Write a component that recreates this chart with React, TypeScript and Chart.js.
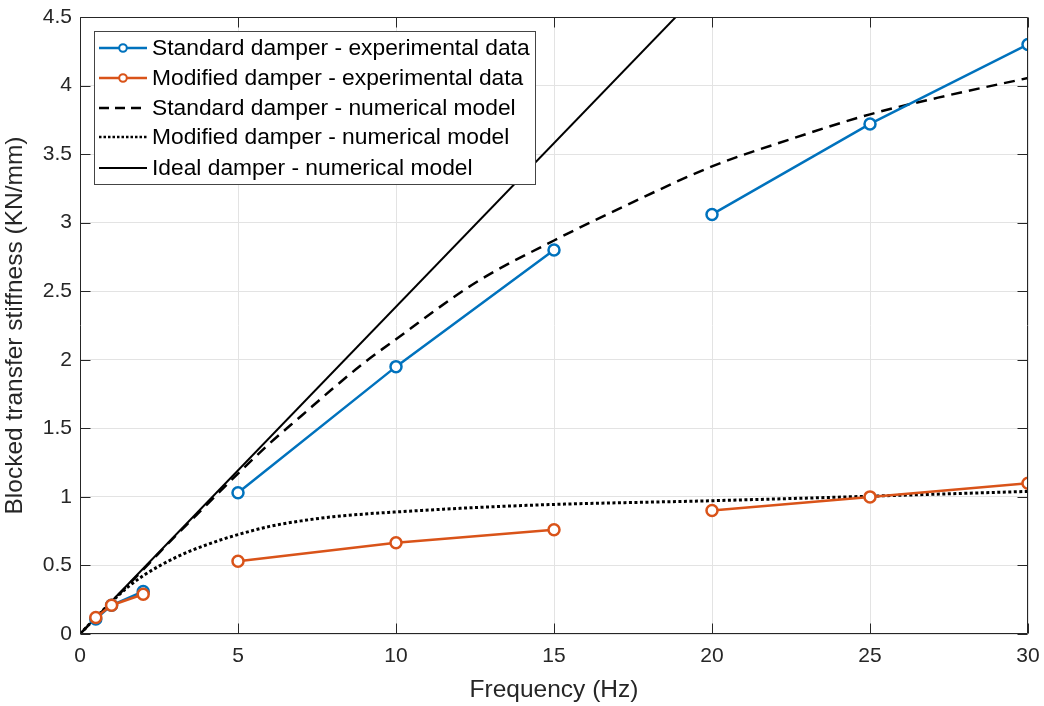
import React, { useEffect, useRef } from "react";
import { Chart, registerables } from "chart.js";

Chart.register(...registerables);

// ---- data ----
const expFreq = [0.5, 1, 2, 5, 10, 15, 20, 25, 30];
const standardExp = [0.11, 0.21, 0.31, 1.03, 1.95, 2.8, 3.06, 3.72, 4.3];
const modifiedExp = [0.12, 0.21, 0.29, 0.53, 0.665, 0.76, 0.9, 1.0, 1.1];
const expBreaksAfter = [2, 5];

const standardModelFreq = [0, 1, 2, 3, 4, 5, 6, 7, 8, 9, 10, 12.5, 15, 17.5, 20, 22.5, 25, 27.5, 30];
const standardModel = [0, 0.235, 0.47, 0.71, 0.94, 1.17, 1.39, 1.59, 1.79, 1.98, 2.15, 2.56, 2.87, 3.15, 3.41, 3.61, 3.79, 3.93, 4.055];

const modifiedModelFreq = [0, 0.5, 1, 1.5, 2, 2.5, 3, 3.5, 4, 4.5, 5, 6, 7, 8, 9, 10, 12.5, 15, 20, 25, 30];
const modifiedModel = [0, 0.12, 0.235, 0.34, 0.425, 0.495, 0.555, 0.607, 0.65, 0.69, 0.725, 0.785, 0.825, 0.855, 0.875, 0.89, 0.922, 0.945, 0.972, 1.005, 1.04];

const idealFreq = [0, 30];
const idealModel = [0, 7.16];

const xTicks = [0, 5, 10, 15, 20, 25, 30];
const yTicks = [0, 0.5, 1, 1.5, 2, 2.5, 3, 3.5, 4, 4.5];

const legendLabels = [
  "Standard damper - experimental data",
  "Modified damper - experimental data",
  "Standard damper - numerical model",
  "Modified damper - numerical model",
  "Ideal damper - numerical model",
];

const BLUE = "#0072BD";
const ORANGE = "#D95319";
const AXIS = "#262626";
const FONT = "'Liberation Sans', Arial, sans-serif";

const pts = (xs: number[], ys: number[]) => xs.map((x, i) => ({ x, y: ys[i] }));

const frameAndTicks = {
  id: "frameAndTicks",
  afterDatasetsDraw(chart: any) {
    const { ctx, chartArea: a, scales } = chart;
    ctx.save();
    ctx.strokeStyle = AXIS;
    ctx.lineWidth = 1;
    ctx.beginPath();
    const L = Math.round(a.left) + 0.5, R = Math.round(a.right) - 0.5;
    const T = Math.round(a.top) + 0.5, B = Math.round(a.bottom) - 0.5;
    ctx.rect(L, T, R - L, B - T);
    const tl = 10;
    xTicks.forEach((v) => {
      const px = Math.round(scales.x.getPixelForValue(v)) + 0.5;
      ctx.moveTo(px, B); ctx.lineTo(px, B - tl);
      ctx.moveTo(px, T); ctx.lineTo(px, T + tl);
    });
    yTicks.forEach((v) => {
      const py = Math.round(scales.y.getPixelForValue(v)) + 0.5;
      ctx.moveTo(L, py); ctx.lineTo(L + tl, py);
      ctx.moveTo(R, py); ctx.lineTo(R - tl, py);
    });
    ctx.stroke();
    ctx.restore();
  },
  afterDraw(chart: any) {
    const { ctx, chartArea: a } = chart;
    ctx.save();
    const bx = a.left + 14.5, by = a.top + 14.5, bw = 441, bh = 153;
    ctx.fillStyle = "#ffffff";
    ctx.fillRect(bx, by, bw, bh);
    ctx.strokeStyle = "#444";
    ctx.lineWidth = 1;
    ctx.strokeRect(bx, by, bw, bh);
    const rowY = [48, 78, 108, 137, 168];
    const x0 = a.left + 19, x1 = a.left + 67;
    ctx.font = `22.8px ${FONT}`;
    ctx.textBaseline = "middle";
    rowY.forEach((ry0, i) => {
      const ry = ry0 - 17 + a.top;
      ctx.save();
      ctx.beginPath();
      if (i === 0 || i === 1) {
        ctx.strokeStyle = i === 0 ? BLUE : ORANGE;
        ctx.lineWidth = 2.5;
        ctx.moveTo(x0, ry); ctx.lineTo(x1, ry); ctx.stroke();
        ctx.beginPath();
        ctx.fillStyle = "#fff";
        ctx.lineWidth = 2;
        ctx.arc((x0 + x1) / 2, ry, 3.8, 0, Math.PI * 2);
        ctx.fill(); ctx.stroke();
      } else {
        ctx.strokeStyle = "#000";
        if (i === 2) { ctx.lineWidth = 2.5; ctx.setLineDash([10, 6]); }
        else if (i === 3) { ctx.lineWidth = 2.5; ctx.setLineDash([2.5, 2]); }
        else { ctx.lineWidth = 2; }
        ctx.moveTo(x0, ry); ctx.lineTo(x1, ry); ctx.stroke();
      }
      ctx.restore();
      ctx.fillStyle = "#000";
      ctx.fillText(legendLabels[i], x1 + 5, ry + 1);
    });
    ctx.restore();
  },
};

export default function App() {
  const ref = useRef<HTMLCanvasElement | null>(null);
  useEffect(() => {
    if (!ref.current) return;
    const gapSeg = (color: string) => (ctx: any) =>
      expBreaksAfter.includes(ctx.p0DataIndex) ? "rgba(0,0,0,0)" : color;
    const chart = new Chart(ref.current, {
      type: "line",
      data: {
        datasets: [
          {
            label: legendLabels[4],
            data: pts(idealFreq, idealModel),
            borderColor: "#000",
            borderWidth: 2,
            pointRadius: 0,
            order: 5,
          },
          {
            label: legendLabels[3],
            data: pts(modifiedModelFreq, modifiedModel),
            borderColor: "#000",
            borderWidth: 3,
            borderDash: [3, 2.5],
            pointRadius: 0,
            cubicInterpolationMode: "monotone",
            order: 4,
          },
          {
            label: legendLabels[2],
            data: pts(standardModelFreq, standardModel),
            borderColor: "#000",
            borderWidth: 2.5,
            borderDash: [11, 7],
            pointRadius: 0,
            cubicInterpolationMode: "monotone",
            order: 3,
          },
          {
            label: legendLabels[0],
            data: pts(expFreq, standardExp),
            borderColor: BLUE,
            borderWidth: 2.5,
            pointRadius: 5.5,
            pointBorderWidth: 2.5,
            pointBackgroundColor: "#fff",
            pointBorderColor: BLUE,
            segment: { borderColor: gapSeg(BLUE) },
            order: 2,
          },
          {
            label: legendLabels[1],
            data: pts(expFreq, modifiedExp),
            borderColor: ORANGE,
            borderWidth: 2.5,
            pointRadius: 5.5,
            pointBorderWidth: 2.5,
            pointBackgroundColor: "#fff",
            pointBorderColor: ORANGE,
            segment: { borderColor: gapSeg(ORANGE) },
            order: 1,
          },
        ],
      },
      options: {
        animation: false,
        responsive: false,
        maintainAspectRatio: false,
        layout: { padding: { top: 17, right: 16, left: 0, bottom: 0 } },
        plugins: { legend: { display: false }, tooltip: { enabled: false } },
        scales: {
          x: {
            type: "linear",
            min: 0,
            max: 30,
            afterFit: (s: any) => { s.height = 72; s.paddingLeft = 0; s.paddingRight = 0; },
            afterBuildTicks: (s: any) => { s.ticks = xTicks.map((v) => ({ value: v })); },
            ticks: { font: { size: 21, family: FONT }, color: AXIS, padding: 10, maxRotation: 0, callback: (v: any) => `${v}` },
            grid: { color: "#e3e3e3", drawTicks: false },
            border: { display: false },
            title: {
              display: true,
              text: "Frequency (Hz)",
              font: { size: 24.5, family: FONT },
              color: AXIS,
              padding: { top: 0, bottom: 1 },
            },
          },
          y: {
            type: "linear",
            min: 0,
            max: 4.5,
            afterFit: (s: any) => { s.width = 80; s.paddingTop = 0; s.paddingBottom = 0; },
            afterBuildTicks: (s: any) => { s.ticks = yTicks.map((v) => ({ value: v })); },
            ticks: { font: { size: 21, family: FONT }, color: AXIS, padding: 8, callback: (v: any) => `${v}` },
            grid: { color: "#e3e3e3", drawTicks: false },
            border: { display: false },
            title: {
              display: true,
              text: "Blocked transfer stiffness (KN/mm)",
              font: { size: 24.5, family: FONT, lineHeight: 1 },
              color: AXIS,
              padding: { top: 3, bottom: 0 },
            },
          },
        },
      },
      plugins: [frameAndTicks],
    } as any);
    return () => chart.destroy();
  }, []);
  return (
    <div style={{ position: "absolute", left: 0, top: 0, width: 1044, height: 706, background: "#fff" }}>
      <canvas ref={ref} width={1044} height={706} style={{ display: "block" }} />
    </div>
  );
}
